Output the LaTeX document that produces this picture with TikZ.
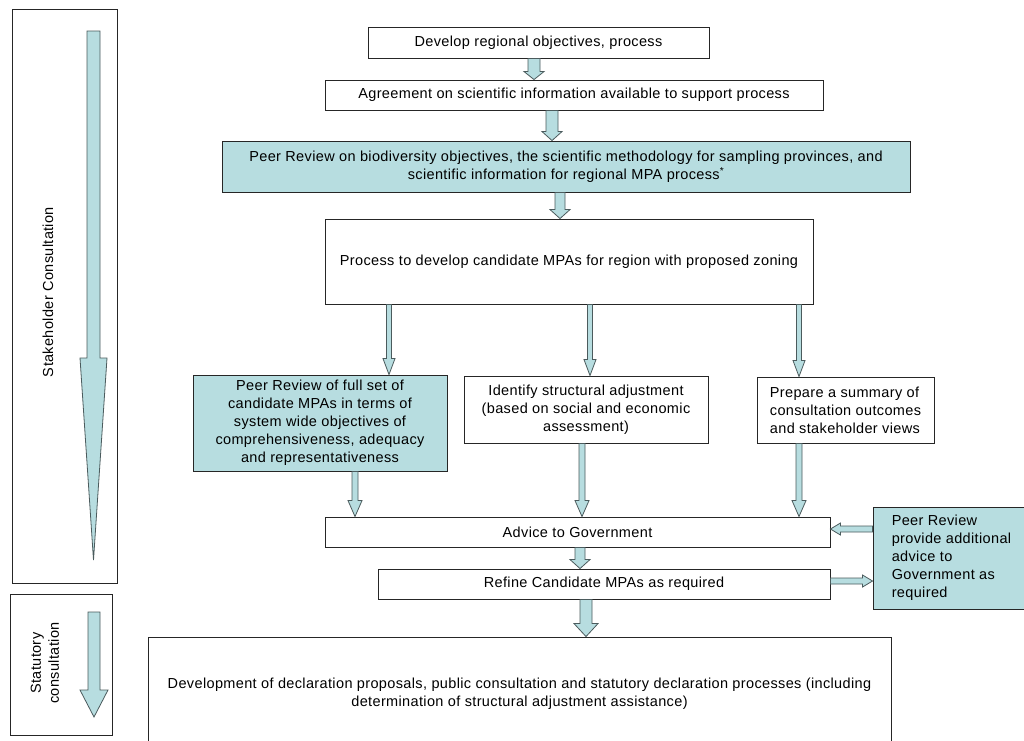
\documentclass[tikz,border=0pt]{standalone}
\usepackage{fontspec}
\setmainfont[LetterSpace=2.5]{Liberation Sans}
\usetikzlibrary{calc}

\definecolor{paleblue}{HTML}{B7DDE0}
\definecolor{edgegray}{HTML}{4B5B5D}

\tikzset{
  box/.style={draw=black!85, line width=0.9pt, fill=white, inner sep=2pt, align=center},
  peerbox/.style={box, fill=paleblue},
  blockarrow/.style={draw=edgegray, fill=paleblue, line width=0.8pt, line join=miter},
}

% hollow block arrow, top to bottom: from, to, x, half shaft, half head, head length
\newcommand{\vblock}[6]{%
  \draw[blockarrow] let \p1=(#1.south), \p2=(#2.north) in
    ({(#3-#4)*1pt},\y1) -- ({(#3-#4)*1pt},{\y2+#6pt}) -- ({(#3-#5)*1pt},{\y2+#6pt})
    -- ({#3pt},\y2) -- ({(#3+#5)*1pt},{\y2+#6pt}) -- ({(#3+#4)*1pt},{\y2+#6pt})
    -- ({(#3+#4)*1pt},\y1) -- cycle;}
% hollow block arrow, sideways: from, to, y, half shaft, half head, head length
\newcommand{\hblock}[6]{%
  \draw[blockarrow] let \p1=(#1), \p2=(#2), \n1={sign(\x1-\x2)} in
    (\x1,{-(#3-#4)*1pt}) -- ({\x2+\n1*#6pt},{-(#3-#4)*1pt}) -- ({\x2+\n1*#6pt},{-(#3-#5)*1pt})
    -- (\x2,{-#3pt}) -- ({\x2+\n1*#6pt},{-(#3+#5)*1pt}) -- ({\x2+\n1*#6pt},{-(#3+#4)*1pt})
    -- (\x1,{-(#3+#4)*1pt}) -- cycle;}

\begin{document}
\begin{tikzpicture}[x=1pt, y=-1pt, font=\fontsize{14.5}{18}\selectfont]
  \clip (0,0) rectangle (1024,740);
  \fill[white] (0,0) rectangle (1024,740);

  % side panels
  \node[draw=black!85, line width=0.9pt, minimum width=105, minimum height=574] (stake) at (64.5,296) {};
  \draw[blockarrow] (87,31) -- (87,358) -- (80,358) -- (93.5,560) -- (107,358) -- (100,358) -- (100,31) -- cycle;
  \node[rotate=90] (stakelbl) at (48,292) {Stakeholder Consultation};

  \node[draw=black!85, line width=0.9pt, minimum width=102, minimum height=141] (statute) at (61,664.5) {};
  \draw[blockarrow] (88,612) -- (88,690) -- (80,690) -- (94,717) -- (108,690) -- (100,690) -- (100,612) -- cycle;
  \node[rotate=90, align=center] (statlbl) at (45,663) {Statutory\\consultation};

  % main flow
  \node[box, minimum width=341, minimum height=31] (develop) at (538.5,42.5) {Develop regional objectives, process};
  \node[box, minimum width=498, minimum height=30] (agree) at (574,95) {Agreement on scientific information available to support process};
  \node[peerbox, minimum width=688, minimum height=51] (peerbio) at (566,166.5)
    {Peer Review on biodiversity objectives, the scientific methodology for  sampling provinces, and\\
     scientific information for regional MPA process\textsuperscript{*}};
  \node[box, minimum width=488, minimum height=85] (candidate) at (569,261.5) {Process to develop candidate MPAs for region with proposed zoning};

  \node[peerbox, minimum width=254, minimum height=96] (peerset) at (320,423)
    {Peer Review of full set of\\candidate MPAs in terms of\\system wide objectives of\\comprehensiveness, adequacy\\and representativeness};
  \node[box, minimum width=244, minimum height=67] (adjust) at (586,409.5)
    {Identify structural adjustment\\(based on social and economic\\assessment)};
  \node[box, align=left, minimum width=177, minimum height=66] (summary) at (845.5,410)
    {Prepare a summary of\\consultation outcomes\\and stakeholder views};

  \node[box, minimum width=505, minimum height=30] (advice) at (577.5,532) {Advice to Government};
  \node[box, minimum width=452, minimum height=30] (refine) at (604,584) {Refine Candidate MPAs as required};
  \node[peerbox, align=left, minimum width=157, minimum height=102] (peeradd) at (951.5,558)
    {Peer Review\\provide additional\\advice to\\Government as\\required};

  \node[box, minimum width=743, minimum height=113] (declare) at (519.5,693.5)
    {Development of declaration proposals, public consultation and statutory declaration processes (including\\
     determination of structural adjustment assistance)};

  % connectors
  \vblock{develop}{agree}{534}{6}{10}{8}
  \vblock{agree}{peerbio}{552}{6}{10}{9}
  \vblock{peerbio}{candidate}{560}{5}{10}{9}
  \vblock{candidate}{peerset}{389}{2.5}{6}{16}
  \vblock{candidate}{adjust}{590}{2.5}{6}{16}
  \vblock{candidate}{summary}{799}{2.5}{6}{16}
  \vblock{peerset}{advice}{355}{3}{7}{16}
  \vblock{adjust}{advice}{582}{3}{7}{16}
  \vblock{summary}{advice}{799}{3}{7}{16}
  \vblock{advice}{refine}{580}{5}{10}{9}
  \vblock{refine}{declare}{586}{6}{12}{13}
  \hblock{peeradd.west}{advice.east}{529}{3}{6}{10}
  \hblock{refine.east}{peeradd.west}{581}{3}{6}{10}
\end{tikzpicture}
\end{document}
